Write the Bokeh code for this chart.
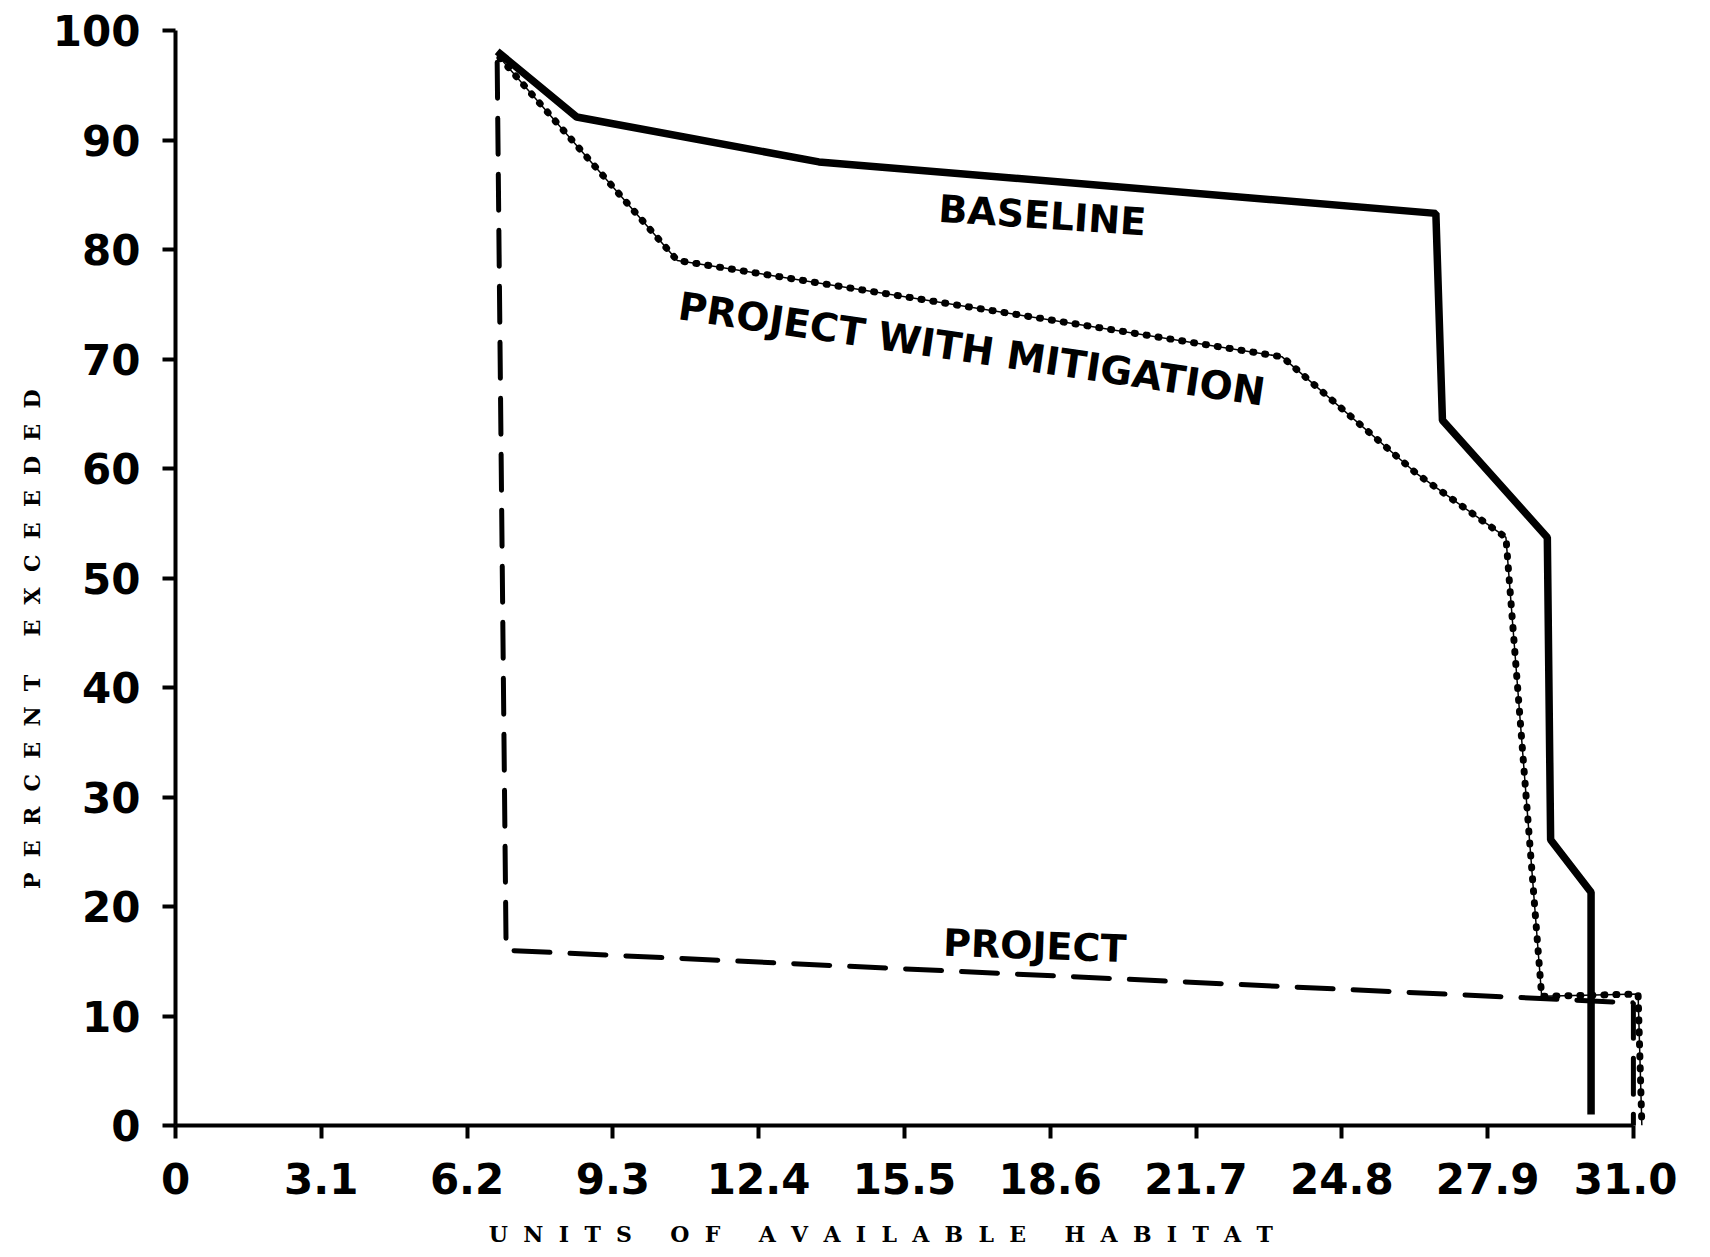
from bokeh.plotting import figure
from bokeh.models import Range1d, FixedTicker
from bokeh.core.properties import value
from bokeh.embed import file_html
from bokeh.resources import INLINE

# ---- data ----
baseline_x = [6.84, 8.53, 13.68, 26.80, 26.94, 29.17, 29.24, 30.10, 30.10]
baseline_y = [98.1, 92.1, 88.0, 83.3, 64.4, 53.7, 26.1, 21.3, 1.0]

mitig_x = [6.90, 10.67, 23.53, 26.40, 28.29, 29.05, 31.10, 31.18]
mitig_y = [97.5, 79.0, 70.2, 59.5, 53.7, 11.8, 12.0, 0.0]

project_x = [6.84, 7.03, 31.00, 31.00]
project_y = [97.1, 16.0, 11.2, 0.0]

x_ticks = [0, 3.1, 6.2, 9.3, 12.4, 15.5, 18.6, 21.7, 24.8, 27.9, 31.0]
x_tick_labels = ["0", "3.1", "6.2", "9.3", "12.4", "15.5", "18.6", "21.7", "24.8", "27.9", "31.0"]
y_ticks = [0, 10, 20, 30, 40, 50, 60, 70, 80, 90, 100]

series_labels = ["BASELINE", "PROJECT WITH MITIGATION", "PROJECT"]
label_x = [18.43, 16.93, 18.27]
label_y = [83.1, 70.9, 16.4]
label_angle = [-0.066, -0.147, -0.035]
label_size = ["38px", "39px", "38px"]

NB = "\u00a0"


def spaced(s, gap=2, word_gap=5):
    words = s.split(" ")
    return (NB * word_gap).join((NB * gap).join(list(w)) for w in words)


p = figure(
    frame_width=1472, frame_height=1095,
    x_range=Range1d(0, 31.3), y_range=Range1d(0, 100),
    output_backend="svg", toolbar_location=None,
    min_border_left=175, min_border_top=30, min_border_bottom=116, min_border_right=30,
)
p.outline_line_color = None
p.xgrid.visible = False
p.ygrid.visible = False
p.background_fill_color = "white"
p.border_fill_color = "white"

# lines
p.line(baseline_x, baseline_y, line_color="black", line_width=7.5)
p.line(mitig_x, mitig_y, line_color="black", line_width=1.5)
p.line(mitig_x, mitig_y, line_color="black", line_width=7, line_dash="1 11", line_cap="round")
p.line(project_x, project_y, line_color="black", line_width=5, line_dash="36 20", line_cap="round")

# in-plot labels
p.text(x=label_x, y=label_y, text=series_labels, angle=label_angle,
       text_align="center", text_baseline="middle",
       text_font=value("DejaVu Sans"), text_font_style="bold",
       text_font_size=label_size, text_color="black")

# axes
xa = p.xaxis[0]
xa.ticker = FixedTicker(ticks=x_ticks)
xa.major_label_overrides = {t: l for t, l in zip(x_ticks, x_tick_labels)}
xa.bounds = (0, 31.0)
ya = p.yaxis[0]
ya.ticker = FixedTicker(ticks=y_ticks)
ya.bounds = (0, 100)

for ax in (xa, ya):
    ax.axis_line_width = 4
    ax.axis_line_color = "black"
    ax.major_tick_line_width = 4
    ax.major_tick_line_color = "black"
    ax.major_tick_in = 0
    ax.major_tick_out = 13
    ax.minor_tick_line_color = None
    ax.major_label_text_font = "DejaVu Sans"
    ax.major_label_text_font_style = "bold"
    ax.major_label_text_font_size = "42px"
    ax.major_label_text_color = "black"
    ax.axis_label_text_font = "DejaVu Serif"
    ax.axis_label_text_font_style = "bold"
    ax.axis_label_text_font_size = "22px"
    ax.axis_label_text_color = "black"

xa.major_label_standoff = 24
ya.major_label_standoff = 22
ya.major_label_orientation = "horizontal"

xa.axis_label = spaced("UNITS OF AVAILABLE HABITAT") + NB * 8
ya.axis_label = spaced("PERCENT EXCEEDED") + NB * 16
xa.axis_label_standoff = 24
ya.axis_label_standoff = 5

open("out.html", "w").write(file_html(p, INLINE))
